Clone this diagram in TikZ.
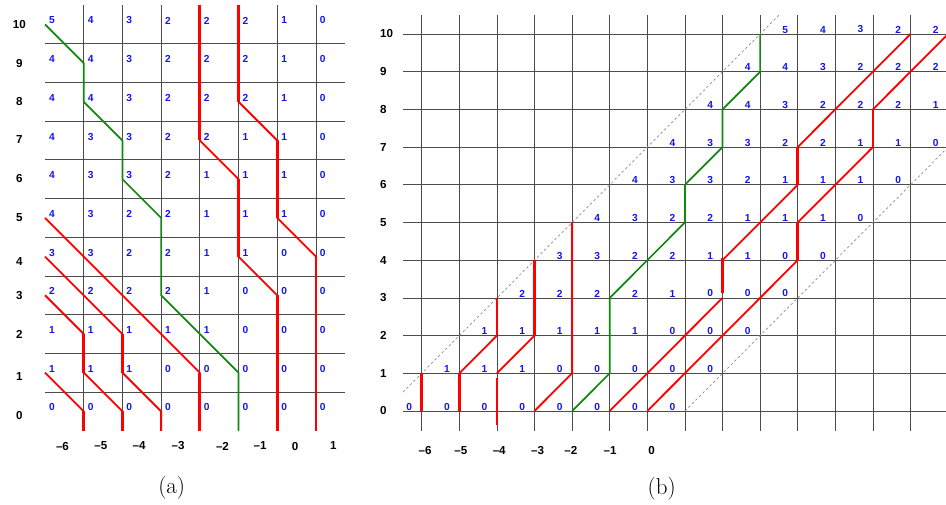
\documentclass[tikz,border=0pt]{standalone}
\usepackage{fontspec}
\newfontfamily\labfont{Liberation Sans}
\definecolor{pgreen}{RGB}{16,136,16}
\definecolor{pblue}{RGB}{20,20,240}
\begin{document}
\begin{tikzpicture}[x=1pt,y=-1pt,
  gridline/.style={draw=black!70,line width=0.8pt},
  dig/.style={font=\labfont\bfseries\fontsize{10.2}{12}\selectfont,text=pblue,inner sep=0pt},
  axl/.style={font=\labfont\bfseries\fontsize{11.6}{14}\selectfont,inner sep=0pt},
  captext/.style={font=\fontsize{23}{28}\selectfont,inner sep=0pt},
  redpath/.style={draw=red,line width=1.8pt,line join=round},
  redvert/.style={draw=red,line width=2.7pt},
  grnpath/.style={draw=pgreen,line width=1.7pt,line join=round},
  dashdiag/.style={draw=black!45,line width=0.7pt,dash pattern=on 2.5pt off 2.5pt}]
\useasboundingbox (0,0) rectangle (946,504);
\clip (0,0) rectangle (946,504);

% ================= panel (a) =================
\begin{scope}[shift={(45pt,-5pt)},x=38.7pt,y=-38.7pt]
  \foreach \u in {1,...,7} \draw[gridline] (\u,0) -- (\u,11);
  \foreach \v in {1,...,10} \draw[gridline] (0,\v) -- (7.75,\v);
  \foreach \r/\vals in {10/{5,4,3,2,2,2,1,0},9/{4,4,3,2,2,2,1,0},8/{4,4,3,2,2,2,1,0},
      7/{4,3,3,2,2,1,1,0},6/{4,3,3,2,1,1,1,0},5/{4,3,2,2,1,1,1,0},4/{3,3,2,2,1,1,0,0},
      3/{2,2,2,2,1,0,0,0},2/{1,1,1,1,1,0,0,0},1/{1,1,1,0,0,0,0,0},0/{0,0,0,0,0,0,0,0}}{
    \foreach \val [count=\i from 0] in \vals {
      \node[dig,anchor=west] (a\r-\i) at (\i+0.1,10-\r+0.4) {\val};
    }
  }
  % red paths
  \draw[redpath] (4,0)--(4,3.5)--(5,4.5)--(5,6.5)--(6,7.5)--(6,11);
  \draw[redpath] (5,0)--(5,2.5)--(6,3.5)--(6,5.5)--(7,6.5)--(7,11);
  \draw[redpath] (0,5.5)--(4,9.5)--(4,11);
  \draw[redpath] (0,6.5)--(2,8.5)--(2,9.5)--(3,10.5)--(3,11);
  \draw[redpath] (0,7.5)--(1,8.5)--(1,9.5)--(2,10.5)--(2,11);
  \draw[redpath] (0,9.5)--(1,10.5)--(1,11);
  \draw[redvert] (4,0)--(4,3.5) (5,4.5)--(5,6.5) (6,7.5)--(6,11);
  \draw[redvert] (5,0)--(5,2.5) (6,3.5)--(6,5.5) (7,6.5)--(7,11);
  \draw[redvert] (4,9.5)--(4,11);
  \draw[redvert] (2,8.5)--(2,9.5) (3,10.5)--(3,11);
  \draw[redvert] (1,8.5)--(1,9.5) (2,10.5)--(2,11);
  \draw[redvert] (1,10.5)--(1,11);
  % green path
  \draw[grnpath] (0,0.5)--(1,1.5)--(1,2.5)--(2,3.5)--(2,4.5)--(3,5.5)--(3,7.5)--(5,9.5)--(5,11);
\end{scope}
% row labels (a)
\foreach \r/\yy in {10/24.3,9/63.3,8/101.5,7/140,6/179,5/218,4/262,3/296,2/334.5,1/376.5,0/415.7}
  \node[axl] (ar\r) at (19.3,\yy) {\r};
% column labels (a)
\foreach \c/\xx in {-6/62.5,-5/100.8,-4/139.2,-3/178.2,-2/222.5,-1/260}
  \node[axl] (ac\c) at (\xx,446) {\textendash\the\numexpr-\c\relax};
\node[axl] (ac0) at (295,446) {0};
\node[axl] (ac1) at (333.3,446) {1};
\node[captext] (capa) at (171.7,487.5) {(a)};

% ================= panel (b) =================
\begin{scope}[shift={(647.3pt,-411pt)},x=37.6pt,y=37.7pt]
  \foreach \k in {-6,...,7} \draw[gridline] (\k,-0.52) -- (\k,10.5);
  \foreach \r in {0,...,10} \draw[gridline] (-6.5,\r) -- (8.2,\r);
  \draw[dashdiag] (-6.5,0.5) -- (3.5,10.5);
  \draw[dashdiag] (1,0) -- (8.6,7.6);
  \foreach \r/\vals in {10/{5,4,3,2,2,2,1,0},9/{4,4,3,2,2,2,1,0},8/{4,4,3,2,2,2,1,0},
      7/{4,3,3,2,2,1,1,0},6/{4,3,3,2,1,1,1,0},5/{4,3,2,2,1,1,1,0},4/{3,3,2,2,1,1,0,0},
      3/{2,2,2,2,1,0,0,0},2/{1,1,1,1,1,0,0,0},1/{1,1,1,0,0,0,0,0},0/{0,0,0,0,0,0,0,0}}{
    \foreach \val [count=\i from 0] in \vals {
      \pgfmathtruncatemacro\kk{\i-6+\r}
      \ifnum\kk<9
        \node[dig,anchor=south,yshift=0.7pt] (b\r-\i) at (\kk-0.33,\r) {\val};
      \fi
    }
  }
  % red paths
  \draw[redpath] (7,10)--(4,7)--(4,6)--(2,4)--(2,3.12);
  \draw[redpath] (2,3)--(-1,0);
  \draw[redpath] (8,10)--(6,8)--(6,7)--(4,5)--(4,4)--(0,0);
  \draw[redpath] (-2,5)--(-2,1)--(-3,0);
  \draw[redpath] (-3,4)--(-3,2)--(-4,1);
  \draw[redpath] (-4,3)--(-4,2)--(-5,1)--(-5,0);
  \draw[redvert] (4,7)--(4,6) (2,4.05)--(2,3.12);
  \draw[redvert] (6,8)--(6,7) (4,5)--(4,4);
  \draw[redvert] (-2,5)--(-2,1);
  \draw[redvert] (-3,4)--(-3,2) (-4,0.88)--(-4,-0.37);
  \draw[redvert] (-4,3)--(-4,2) (-5,1)--(-5,0);
  \draw[redvert] (-6,1)--(-6,0);
  % green path
  \draw[grnpath] (-2,0)--(-1,1)--(-1,3)--(1,5)--(1,6)--(2,7)--(2,8)--(3,9)--(3,10);
\end{scope}
% row labels (b)
\foreach \r in {0,...,10}
  \node[axl,anchor=west] (br\r) at (380,411-37.7*\r) {\r};
% column labels (b)
\foreach \c/\xx in {-6/425,-5/460.8,-4/499.2,-3/537.5,-2/570.8,-1/610}
  \node[axl] (bc\c) at (\xx,450.8) {\textendash\the\numexpr-\c\relax};
\node[axl] (bc0) at (651.7,450.8) {0};
\node[captext] (capb) at (661.7,488.3) {(b)};
\end{tikzpicture}
\end{document}
